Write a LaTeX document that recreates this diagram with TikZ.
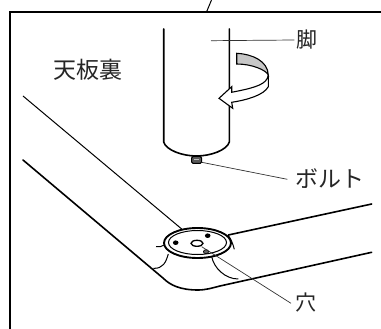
\documentclass[tikz,border=0pt]{standalone}
\usepackage{fontspec}
\setmainfont{Noto Sans CJK JP}
\definecolor{lbl}{gray}{0.15}
\tikzset{
 thick line/.style={line width=1.6pt,line cap=round,line join=round},
 thin line/.style={line width=1pt},
 leader/.style={line width=0.7pt,black!80},
 lab/.style={text=lbl,inner sep=0pt},
}
\begin{document}
\begin{tikzpicture}[x=1pt,y=-1pt]
\useasboundingbox (0,0) rectangle (381,329);
% frame
\draw[line width=1.7pt] (10,329) -- (10,12) -- (381,12);
\draw[line width=1pt] (211.5,0) -- (206.5,12);
% leg
\draw[thick line] (163.7,29) -- (163.7,142) .. controls (166,150) and (182,156) .. (196.5,156) .. controls (211,156) and (227,150) .. (229.3,142) -- (229.3,29);
% twist arrow
\filldraw[fill=black!22,line width=1.1pt] (236.7,53.3) .. controls (252,54) and (268,61) .. (268.3,75) .. controls (266,70) and (252,64) .. (236.7,64) -- cycle;
\filldraw[fill=white,line width=1.1pt,line join=miter] (268.3,75) -- (268.3,86.7) .. controls (264,95) and (247,100) .. (231.7,102.3) -- (232.7,108.3) -- (219,98.3) -- (231.7,86.7) -- (231.7,92.3) .. controls (248,89) and (264,86) .. (267.3,78.3) -- (268.3,75);
% bolt
\filldraw[fill=black!65,line width=1pt,rounded corners=1.5pt] (191.7,156.5) rectangle (201.7,163.5);
\draw[line width=0.6pt,black!25] (194,159.5) -- (199,159.5);
% table
\draw[thin line] (23,96) -- (181.7,229);
\draw[thick line] (23,160) -- (163.3,278.3) .. controls (170,285) and (180,290) .. (198,290) .. controls (206,290) and (212,288) .. (220,286) -- (371.7,252.3);
\draw[thick line] (228.3,235) -- (371.7,204);
% fitting
\draw[line width=1.9pt] (197.5,243) ellipse[x radius=33.5,y radius=15];
\draw[line width=1pt] (197.5,242.5) ellipse[x radius=29,y radius=12];
\fill (175.7,242.7) ellipse[x radius=2.8,y radius=2.3];
\fill (207.7,235.7) ellipse[x radius=2.8,y radius=2.3];
\filldraw[fill=black!60,line width=0.7pt] (206,251.7) ellipse[x radius=2.6,y radius=2];
\draw[line width=1.3pt,fill=white] (197,243.3) ellipse[x radius=6,y radius=3];
\draw[line width=1pt] (156,246.7) .. controls (159,247) and (162,247) .. (164,245);
\draw[line width=1pt] (168.3,254) .. controls (166,262) and (163,269) .. (153.3,268.3);
\draw[line width=1pt] (211.7,256.7) .. controls (214,268) and (225,279) .. (238.3,279);
\draw[line width=1pt] (228,235) .. controls (231,239) and (233,244) .. (234.3,249.3);
% labels
\node[lab,font=\fontsize{23}{23}\selectfont] (ura) at (88,70) {天板裏};
\node[lab,font=\fontsize{21}{21}\selectfont] (ashi) at (306.5,40) {脚};
\node[lab,font=\fontsize{23}{23}\selectfont] (bolt) at (330,179) {ボルト};
\node[lab,font=\fontsize{21}{21}\selectfont] (ana) at (306,303) {穴};
\coordinate (legp) at (211,40.7);
\coordinate (boltp) at (201.7,162.3);
\coordinate (holep) at (201.7,246.7);
\coordinate (b1) at (287.3,179.3);
\coordinate (h1) at (291,303.3);
\draw[leader] (legp) -- ([xshift=-1.5pt]ashi.west);
\draw[leader] (boltp) -- (b1);
\draw[leader] (holep) -- (h1);
\end{tikzpicture}
\end{document}
